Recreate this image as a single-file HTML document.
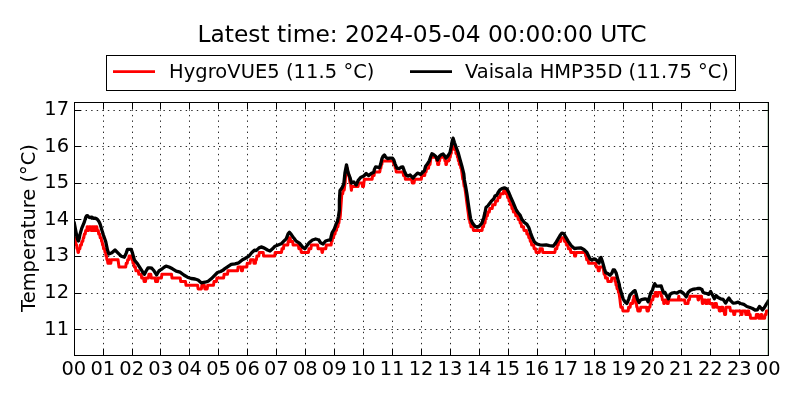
<!DOCTYPE html>
<html><head><meta charset="utf-8"><title>Temperature</title>
<style>
html,body{margin:0;padding:0;background:#fff;}
body{width:800px;height:400px;overflow:hidden;}
svg{display:block;}
text{font-family:'DejaVu Sans','Liberation Sans',sans-serif;fill:#000;}
.t14{font-size:19.44px;}
.t16{font-size:23.33px;}
.grid{stroke:#000;stroke-width:0.85;stroke-dasharray:1.39 4.17;fill:none;}
.ax{stroke:#000;stroke-width:1;fill:none;shape-rendering:crispEdges;}
.tick{stroke:#000;stroke-width:1;fill:none;shape-rendering:crispEdges;}
.ln{fill:none;stroke-width:3.0;stroke-linejoin:round;stroke-linecap:butt;}
</style></head><body>
<svg width="800" height="400" viewBox="0 0 800 400">
<rect x="0" y="0" width="800" height="400" fill="#fff"/>

<path class="tick" d="M74.5 355.5v-6.5M74.5 102.5v6.5"/>
<path class="grid" d="M103.5 355.4V102.5"/>
<path class="tick" d="M103.5 355.5v-6.5M103.5 102.5v6.5"/>
<path class="grid" d="M132.5 355.4V102.5"/>
<path class="tick" d="M132.5 355.5v-6.5M132.5 102.5v6.5"/>
<path class="grid" d="M160.5 355.4V102.5"/>
<path class="tick" d="M160.5 355.5v-6.5M160.5 102.5v6.5"/>
<path class="grid" d="M189.5 355.4V102.5"/>
<path class="tick" d="M189.5 355.5v-6.5M189.5 102.5v6.5"/>
<path class="grid" d="M218.5 355.4V102.5"/>
<path class="tick" d="M218.5 355.5v-6.5M218.5 102.5v6.5"/>
<path class="grid" d="M247.5 355.4V102.5"/>
<path class="tick" d="M247.5 355.5v-6.5M247.5 102.5v6.5"/>
<path class="grid" d="M276.5 355.4V102.5"/>
<path class="tick" d="M276.5 355.5v-6.5M276.5 102.5v6.5"/>
<path class="grid" d="M305.5 355.4V102.5"/>
<path class="tick" d="M305.5 355.5v-6.5M305.5 102.5v6.5"/>
<path class="grid" d="M334.5 355.4V102.5"/>
<path class="tick" d="M334.5 355.5v-6.5M334.5 102.5v6.5"/>
<path class="grid" d="M363.5 355.4V102.5"/>
<path class="tick" d="M363.5 355.5v-6.5M363.5 102.5v6.5"/>
<path class="grid" d="M392.5 355.4V102.5"/>
<path class="tick" d="M392.5 355.5v-6.5M392.5 102.5v6.5"/>
<path class="grid" d="M421.5 355.4V102.5"/>
<path class="tick" d="M421.5 355.5v-6.5M421.5 102.5v6.5"/>
<path class="grid" d="M450.5 355.4V102.5"/>
<path class="tick" d="M450.5 355.5v-6.5M450.5 102.5v6.5"/>
<path class="grid" d="M479.5 355.4V102.5"/>
<path class="tick" d="M479.5 355.5v-6.5M479.5 102.5v6.5"/>
<path class="grid" d="M508.5 355.4V102.5"/>
<path class="tick" d="M508.5 355.5v-6.5M508.5 102.5v6.5"/>
<path class="grid" d="M537.5 355.4V102.5"/>
<path class="tick" d="M537.5 355.5v-6.5M537.5 102.5v6.5"/>
<path class="grid" d="M565.5 355.4V102.5"/>
<path class="tick" d="M565.5 355.5v-6.5M565.5 102.5v6.5"/>
<path class="grid" d="M594.5 355.4V102.5"/>
<path class="tick" d="M594.5 355.5v-6.5M594.5 102.5v6.5"/>
<path class="grid" d="M623.5 355.4V102.5"/>
<path class="tick" d="M623.5 355.5v-6.5M623.5 102.5v6.5"/>
<path class="grid" d="M652.5 355.4V102.5"/>
<path class="tick" d="M652.5 355.5v-6.5M652.5 102.5v6.5"/>
<path class="grid" d="M681.5 355.4V102.5"/>
<path class="tick" d="M681.5 355.5v-6.5M681.5 102.5v6.5"/>
<path class="grid" d="M710.5 355.4V102.5"/>
<path class="tick" d="M710.5 355.5v-6.5M710.5 102.5v6.5"/>
<path class="grid" d="M739.5 355.4V102.5"/>
<path class="tick" d="M739.5 355.5v-6.5M739.5 102.5v6.5"/>
<path class="tick" d="M768.5 355.5v-6.5M768.5 102.5v6.5"/>
<path class="grid" d="M74.5 329.5H768.5"/>
<path class="tick" d="M74.5 329.5h6.5M768.5 329.5h-6.5"/>
<path class="grid" d="M74.5 293.5H768.5"/>
<path class="tick" d="M74.5 293.5h6.5M768.5 293.5h-6.5"/>
<path class="grid" d="M74.5 256.5H768.5"/>
<path class="tick" d="M74.5 256.5h6.5M768.5 256.5h-6.5"/>
<path class="grid" d="M74.5 219.5H768.5"/>
<path class="tick" d="M74.5 219.5h6.5M768.5 219.5h-6.5"/>
<path class="grid" d="M74.5 183.5H768.5"/>
<path class="tick" d="M74.5 183.5h6.5M768.5 183.5h-6.5"/>
<path class="grid" d="M74.5 146.5H768.5"/>
<path class="tick" d="M74.5 146.5h6.5M768.5 146.5h-6.5"/>
<path class="grid" d="M74.5 110.5H768.5"/>
<path class="tick" d="M74.5 110.5h6.5M768.5 110.5h-6.5"/>
<clipPath id="cp"><rect x="74.5" y="102.5" width="694.0" height="253.0"/></clipPath>
<path class="ln" clip-path="url(#cp)" stroke="#ff0000" stroke-width="3.0" style="stroke-width:3.0" d="M73.5 237.7 L74.6 237.7 L75.1 241.4 L75.6 241.4 L76.1 245.0 L76.6 245.0 L77.0 248.7 L77.5 248.7 L78.0 252.4 L78.5 252.4 L79.0 248.7 L79.9 248.7 L80.4 245.0 L81.4 245.0 L81.9 241.4 L82.8 241.4 L83.3 237.7 L83.8 237.7 L84.3 234.1 L85.2 234.1 L85.7 230.4 L86.7 230.4 L87.2 226.8 L87.7 226.8 L88.1 230.4 L88.6 230.4 L89.1 226.8 L90.5 226.8 L91.0 230.4 L91.5 230.4 L92.0 226.8 L92.5 226.8 L93.0 230.4 L93.4 230.4 L93.9 226.8 L94.4 226.8 L94.9 230.4 L95.4 230.4 L95.8 226.8 L96.8 226.8 L97.3 230.4 L98.3 230.4 L98.7 234.1 L99.7 234.1 L100.2 237.7 L101.2 237.7 L101.6 241.4 L102.1 241.4 L102.6 245.0 L103.1 245.0 L103.6 248.7 L104.5 248.7 L105.0 252.4 L105.5 252.4 L106.0 256.0 L106.5 256.0 L106.9 259.7 L107.4 259.7 L107.9 263.3 L108.9 263.3 L109.4 259.7 L109.8 259.7 L110.3 263.3 L110.8 263.3 L111.3 259.7 L118.0 259.7 L118.5 263.3 L119.0 267.0 L125.7 267.0 L126.2 263.3 L127.2 263.3 L127.7 259.7 L128.6 259.7 L129.1 256.0 L131.5 256.0 L132.0 259.7 L132.5 259.7 L133.0 263.3 L133.9 263.3 L134.4 267.0 L135.4 267.0 L135.9 270.7 L138.3 270.7 L138.8 274.3 L141.2 274.3 L141.7 278.0 L143.6 278.0 L144.1 281.6 L145.5 281.6 L146.0 278.0 L148.4 278.0 L148.9 274.3 L150.8 274.3 L151.3 278.0 L155.2 278.0 L155.6 281.6 L157.6 281.6 L158.0 278.0 L161.4 278.0 L161.9 274.3 L171.5 274.3 L172.0 278.0 L180.2 278.0 L180.7 281.6 L185.5 281.6 L186.0 285.3 L197.6 285.3 L198.1 288.9 L201.4 288.9 L201.9 285.3 L204.3 285.3 L204.8 288.9 L207.2 288.9 L207.7 285.3 L213.5 285.3 L214.0 281.6 L216.4 281.6 L216.9 278.0 L223.6 278.0 L224.1 274.3 L227.5 274.3 L228.0 270.7 L237.6 270.7 L238.1 267.0 L241.0 267.0 L241.5 270.7 L242.4 270.7 L242.9 267.0 L246.8 267.0 L247.2 263.3 L250.1 263.3 L250.6 259.7 L253.5 259.7 L254.0 263.3 L255.4 263.3 L255.9 259.7 L256.4 259.7 L256.9 256.0 L258.8 256.0 L259.3 252.4 L263.2 252.4 L263.6 256.0 L274.7 256.0 L275.2 252.4 L281.5 252.4 L282.0 248.7 L283.4 248.7 L283.9 245.0 L287.8 245.0 L288.2 241.4 L288.7 241.4 L289.2 237.7 L290.2 237.7 L290.6 241.4 L292.6 241.4 L293.1 245.0 L298.4 245.0 L298.8 248.7 L300.8 248.7 L301.3 252.4 L308.5 252.4 L309.0 248.7 L310.9 248.7 L311.4 245.0 L317.6 245.0 L318.1 248.7 L321.5 248.7 L322.0 252.4 L322.5 252.4 L323.0 248.7 L325.8 248.7 L326.3 245.0 L331.1 245.0 L331.6 241.4 L332.1 241.4 L332.6 237.7 L333.6 237.7 L334.0 234.1 L335.0 234.1 L335.5 230.4 L336.5 230.4 L336.9 226.8 L337.9 226.8 L338.4 223.1 L338.9 223.1 L339.3 219.4 L339.8 219.4 L340.3 215.8 L340.8 208.5 L341.3 201.1 L341.8 193.8 L342.7 193.8 L343.2 190.2 L344.2 190.2 L344.6 186.5 L345.1 182.9 L345.6 175.5 L346.1 171.9 L346.6 168.2 L347.1 168.2 L347.5 171.9 L348.0 171.9 L348.5 175.5 L349.0 175.5 L349.5 179.2 L350.0 182.9 L350.4 182.9 L350.9 186.5 L351.4 190.2 L351.9 186.5 L358.1 186.5 L358.6 182.9 L362.0 182.9 L362.5 186.5 L363.5 186.5 L363.9 182.9 L364.4 179.2 L372.1 179.2 L372.6 175.5 L374.1 175.5 L374.5 171.9 L379.8 171.9 L380.3 168.2 L380.8 168.2 L381.3 164.6 L381.8 164.6 L382.3 160.9 L393.3 160.9 L393.8 164.6 L394.8 164.6 L395.3 168.2 L395.8 168.2 L396.2 171.9 L403.0 171.9 L403.5 175.5 L404.9 175.5 L405.4 179.2 L411.7 179.2 L412.2 182.9 L414.1 182.9 L414.6 179.2 L421.3 179.2 L421.8 175.5 L424.7 175.5 L425.2 171.9 L426.1 171.9 L426.6 168.2 L428.5 168.2 L429.0 164.6 L430.0 164.6 L430.5 160.9 L431.0 157.3 L436.3 157.3 L436.7 160.9 L437.2 160.9 L437.7 164.6 L438.7 164.6 L439.2 160.9 L439.6 160.9 L440.1 157.3 L444.5 157.3 L444.9 160.9 L445.4 160.9 L445.9 164.6 L446.4 164.6 L446.9 160.9 L448.8 160.9 L449.3 157.3 L450.2 157.3 L450.7 153.6 L451.2 153.6 L451.7 149.9 L452.2 149.9 L452.7 146.3 L454.6 146.3 L455.1 149.9 L455.5 149.9 L456.0 153.6 L457.0 153.6 L457.5 157.3 L458.0 157.3 L458.4 160.9 L458.9 160.9 L459.4 164.6 L460.4 164.6 L460.8 168.2 L461.3 168.2 L461.8 171.9 L462.3 175.5 L462.8 179.2 L463.3 179.2 L463.7 182.9 L464.2 186.5 L464.7 186.5 L465.2 190.2 L465.7 193.8 L466.2 197.5 L466.6 201.1 L467.1 204.8 L467.6 208.5 L468.1 212.1 L468.6 215.8 L469.0 219.4 L469.5 219.4 L470.0 223.1 L470.5 223.1 L471.0 226.8 L472.9 226.8 L473.4 230.4 L482.1 230.4 L482.5 226.8 L483.5 226.8 L484.0 223.1 L485.0 223.1 L485.4 219.4 L485.9 219.4 L486.4 215.8 L487.4 215.8 L487.9 212.1 L489.3 212.1 L489.8 208.5 L492.2 208.5 L492.7 204.8 L495.1 204.8 L495.6 201.1 L497.5 201.1 L498.0 197.5 L499.9 197.5 L500.4 193.8 L503.3 193.8 L503.8 190.2 L505.7 190.2 L506.2 193.8 L507.1 193.8 L507.6 197.5 L508.6 197.5 L509.1 201.1 L510.0 201.1 L510.5 204.8 L511.5 204.8 L512.0 208.5 L512.9 208.5 L513.4 212.1 L515.3 212.1 L515.8 215.8 L517.7 215.8 L518.2 219.4 L519.7 219.4 L520.2 223.1 L521.1 223.1 L521.6 226.8 L523.5 226.8 L524.0 230.4 L526.4 230.4 L526.9 234.1 L528.4 234.1 L528.8 237.7 L529.8 237.7 L530.3 241.4 L531.2 241.4 L531.7 245.0 L533.7 245.0 L534.1 248.7 L535.6 248.7 L536.1 252.4 L539.4 252.4 L539.9 248.7 L542.3 248.7 L542.8 252.4 L554.9 252.4 L555.4 248.7 L556.8 248.7 L557.3 245.0 L558.2 245.0 L558.7 241.4 L560.7 241.4 L561.1 237.7 L564.0 237.7 L564.5 241.4 L566.0 241.4 L566.4 245.0 L567.9 245.0 L568.4 248.7 L570.3 248.7 L570.8 252.4 L574.2 252.4 L574.6 256.0 L575.6 256.0 L576.1 252.4 L585.2 252.4 L585.7 256.0 L586.2 256.0 L586.7 259.7 L588.1 259.7 L588.6 263.3 L595.9 263.3 L596.3 267.0 L597.8 267.0 L598.3 270.7 L599.2 270.7 L599.7 267.0 L603.1 267.0 L603.6 270.7 L604.1 274.3 L605.0 274.3 L605.5 278.0 L607.4 278.0 L607.9 281.6 L611.3 281.6 L611.8 278.0 L614.7 278.0 L615.1 281.6 L615.6 281.6 L616.1 285.3 L616.6 285.3 L617.1 288.9 L618.0 288.9 L618.5 292.6 L619.0 292.6 L619.5 296.3 L620.0 299.9 L620.4 303.6 L620.9 307.2 L622.4 307.2 L622.9 310.9 L628.2 310.9 L628.6 307.2 L630.1 307.2 L630.6 303.6 L632.5 303.6 L633.0 299.9 L633.5 299.9 L633.9 296.3 L634.9 296.3 L635.4 299.9 L635.9 303.6 L636.4 303.6 L636.8 307.2 L637.3 307.2 L637.8 310.9 L640.2 310.9 L640.7 307.2 L646.5 307.2 L647.0 310.9 L648.4 310.9 L648.9 307.2 L649.9 307.2 L650.3 303.6 L650.8 303.6 L651.3 299.9 L652.8 299.9 L653.2 296.3 L654.7 296.3 L655.2 292.6 L656.6 292.6 L657.1 296.3 L657.6 296.3 L658.1 292.6 L660.9 292.6 L661.4 296.3 L661.9 296.3 L662.4 299.9 L663.4 299.9 L663.8 303.6 L664.3 303.6 L664.8 299.9 L666.7 299.9 L667.2 303.6 L668.2 303.6 L668.7 299.9 L678.3 299.9 L678.8 296.3 L679.3 299.9 L684.6 299.9 L685.1 303.6 L688.0 303.6 L688.4 299.9 L689.4 299.9 L689.9 296.3 L697.6 296.3 L698.1 299.9 L698.6 299.9 L699.0 296.3 L701.5 296.3 L701.9 299.9 L702.4 303.6 L702.9 303.6 L703.4 299.9 L705.3 299.9 L705.8 303.6 L707.2 303.6 L707.7 299.9 L709.2 299.9 L709.6 303.6 L712.5 303.6 L713.0 307.2 L714.5 307.2 L715.0 303.6 L716.4 303.6 L716.9 307.2 L718.8 307.2 L719.3 310.9 L720.7 310.9 L721.2 307.2 L722.7 307.2 L723.1 310.9 L724.1 310.9 L724.6 314.5 L725.6 314.5 L726.0 307.2 L729.9 307.2 L730.4 310.9 L733.3 310.9 L733.8 314.5 L734.7 314.5 L735.2 310.9 L740.5 310.9 L741.0 314.5 L742.0 314.5 L742.4 310.9 L745.3 310.9 L745.8 314.5 L747.3 314.5 L747.7 310.9 L748.7 310.9 L749.2 314.5 L750.1 314.5 L750.6 318.2 L755.9 318.2 L756.4 314.5 L758.3 314.5 L758.8 318.2 L760.8 318.2 L761.2 314.5 L761.7 314.5 L762.2 318.2 L764.6 318.2 L765.1 314.5 L766.1 314.5 L766.5 310.9 L768.0 310.9 L769.0 310.9"/>

<path class="ln" clip-path="url(#cp)" stroke="#000000" stroke-width="3.3" style="stroke-width:3.3" d="M74.0 221.5 L75.5 229.6 L76.8 236.1 L77.8 240.1 L78.4 240.9 L79.0 239.1 L79.9 234.6 L81.8 228.1 L84.3 222.1 L85.8 217.1 L86.6 215.8 L87.3 215.6 L88.1 216.3 L88.8 217.1 L90.3 217.6 L91.8 217.1 L93.3 218.3 L94.8 218.1 L96.3 218.6 L97.8 219.8 L99.3 222.1 L100.3 224.6 L101.3 228.1 L102.3 231.6 L103.3 234.8 L105.6 241.2 L107.5 250.0 L108.8 254.0 L111.9 252.8 L115.0 250.0 L118.1 253.1 L121.2 256.2 L124.4 257.2 L126.2 253.1 L127.5 249.4 L131.2 249.4 L132.5 253.1 L134.4 260.0 L137.5 263.8 L141.2 269.7 L143.2 272.8 L144.3 274.3 L145.3 272.6 L146.1 271.0 L148.0 267.9 L149.8 267.8 L151.8 268.2 L154.0 270.8 L155.8 273.6 L156.6 274.9 L157.6 273.2 L159.2 270.7 L162.2 268.8 L164.5 267.0 L166.0 266.1 L169.0 267.0 L172.5 268.8 L176.2 271.2 L180.0 272.2 L183.8 275.0 L187.5 277.2 L191.2 278.5 L195.0 279.0 L198.1 280.0 L201.2 282.8 L205.0 282.2 L208.1 281.2 L211.2 278.8 L214.4 275.6 L217.5 272.5 L220.6 271.5 L223.8 269.8 L223.8 269.4 L227.5 266.9 L231.2 264.4 L235.0 263.8 L238.8 262.8 L242.5 259.8 L245.0 258.5 L248.8 256.2 L251.9 252.5 L254.4 250.2 L256.2 250.6 L258.8 248.1 L261.2 246.9 L264.4 248.1 L267.5 250.0 L270.0 251.0 L272.5 248.8 L275.0 246.2 L278.1 245.0 L281.2 243.8 L283.8 241.2 L286.2 238.8 L288.1 233.8 L289.4 232.2 L291.2 234.4 L293.8 238.1 L296.2 241.2 L299.4 243.1 L302.5 246.9 L304.8 248.8 L306.9 245.6 L309.4 242.5 L312.5 240.0 L315.6 239.0 L317.5 239.5 L318.8 239.8 L320.6 242.8 L323.1 244.0 L325.6 241.0 L328.1 240.2 L330.4 240.0 L331.2 236.2 L332.2 232.5 L334.4 228.8 L336.2 223.8 L337.5 221.2 L338.5 216.2 L339.4 210.0 L339.4 200.0 L340.0 190.6 L341.9 188.1 L343.8 183.8 L345.0 172.5 L346.5 164.8 L348.1 172.5 L350.0 177.5 L351.5 183.1 L353.8 181.9 L356.2 185.0 L358.1 180.6 L360.6 177.5 L363.8 176.0 L366.2 173.5 L368.8 175.6 L371.2 173.5 L373.8 172.2 L374.4 169.4 L375.6 166.9 L377.5 167.2 L379.4 167.8 L380.6 164.4 L381.9 158.8 L383.1 156.2 L384.4 155.0 L385.6 156.9 L387.5 158.5 L390.0 158.1 L392.5 158.1 L393.8 160.0 L395.0 163.8 L396.9 168.1 L399.4 168.5 L401.2 167.2 L402.8 166.9 L404.4 171.2 L406.2 175.0 L408.1 176.0 L410.2 175.0 L411.9 176.9 L413.1 178.1 L415.0 175.6 L417.5 173.1 L419.4 173.8 L420.6 174.4 L422.5 172.5 L424.4 170.6 L425.6 166.2 L427.5 163.8 L429.4 160.6 L430.6 156.9 L431.9 153.8 L433.8 154.8 L435.6 156.2 L437.5 160.0 L439.4 156.2 L441.2 154.8 L443.1 154.0 L444.4 155.6 L446.0 158.1 L448.1 155.6 L450.0 152.5 L451.2 146.9 L452.2 141.2 L453.1 138.1 L454.4 142.5 L456.2 147.5 L458.1 152.5 L460.0 159.4 L461.9 166.2 L463.8 173.8 L464.4 180.0 L465.6 186.2 L466.9 193.8 L468.1 202.5 L469.4 211.2 L470.6 218.8 L472.5 223.1 L475.0 226.2 L477.2 227.2 L479.4 226.0 L481.9 223.1 L483.8 217.5 L485.0 212.5 L486.0 207.5 L488.1 205.6 L490.0 203.1 L491.9 200.6 L493.8 198.8 L495.0 196.0 L496.9 195.0 L498.1 192.5 L500.0 189.8 L501.9 188.5 L504.4 187.8 L506.9 189.0 L508.8 192.5 L510.6 196.9 L512.5 201.2 L514.4 205.6 L516.2 210.0 L518.1 212.8 L520.0 215.0 L521.9 219.4 L524.4 222.5 L526.9 224.4 L528.8 227.5 L530.6 233.1 L532.5 238.1 L534.4 241.9 L536.9 244.0 L540.0 244.8 L543.1 245.2 L546.2 244.8 L549.4 245.6 L553.1 246.2 L555.6 243.1 L558.1 238.8 L560.0 235.6 L561.9 233.1 L563.8 233.5 L565.6 236.9 L568.1 241.2 L571.2 245.6 L574.4 248.5 L577.5 248.1 L580.6 247.8 L583.8 249.4 L586.9 252.5 L588.1 255.0 L590.0 258.8 L591.9 260.0 L593.8 258.8 L595.6 259.4 L597.5 261.2 L599.0 263.1 L600.0 258.1 L601.0 257.5 L602.5 261.9 L604.4 268.8 L605.6 272.5 L608.1 273.8 L610.0 275.2 L611.9 273.1 L613.1 270.0 L614.4 269.8 L616.2 273.1 L617.5 278.1 L619.4 285.0 L619.4 286.2 L621.2 292.5 L623.1 298.8 L625.0 301.9 L626.9 303.5 L628.8 298.8 L630.0 295.0 L631.9 293.1 L633.8 291.2 L635.0 290.6 L636.2 294.4 L637.5 299.4 L639.0 302.5 L640.6 300.0 L642.5 299.4 L645.0 298.8 L646.9 299.4 L648.1 301.9 L649.4 297.5 L650.6 293.1 L652.5 290.0 L653.8 285.6 L654.8 283.8 L656.2 286.2 L658.8 286.2 L661.2 286.0 L662.5 290.0 L663.8 293.1 L665.0 292.5 L666.9 296.2 L668.5 298.8 L670.0 294.4 L671.9 293.1 L674.4 292.5 L676.9 293.1 L678.8 291.9 L680.6 291.2 L682.5 292.5 L684.4 294.4 L686.2 296.9 L688.1 292.5 L690.0 290.6 L692.5 289.4 L695.0 289.0 L697.5 288.5 L700.0 288.5 L701.9 289.4 L703.1 292.5 L705.0 293.1 L706.9 293.5 L708.8 294.4 L710.6 291.5 L712.5 295.0 L714.4 298.8 L716.2 295.6 L718.1 297.5 L720.6 298.8 L723.1 299.4 L725.6 303.1 L727.5 300.0 L729.0 298.1 L730.6 300.6 L733.1 303.1 L735.6 302.8 L738.1 302.2 L740.6 303.5 L743.8 304.4 L746.9 306.5 L750.0 307.5 L752.5 308.5 L755.0 310.0 L757.5 309.8 L759.4 306.5 L761.0 308.1 L762.5 310.0 L764.4 307.5 L766.2 304.4 L767.8 301.9 L768.8 300.2"/>
<path d="M767.5 103V355" stroke="#2e6b2e" stroke-opacity="0.3" stroke-width="1" fill="none" shape-rendering="crispEdges"/>
<rect class="ax" x="74.5" y="102.5" width="694.0" height="253.0"/>
<text class="t14" x="73.87" y="375" text-anchor="middle">00</text>
<text class="t14" x="102.80" y="375" text-anchor="middle">01</text>
<text class="t14" x="131.73" y="375" text-anchor="middle">02</text>
<text class="t14" x="160.66" y="375" text-anchor="middle">03</text>
<text class="t14" x="189.59" y="375" text-anchor="middle">04</text>
<text class="t14" x="218.52" y="375" text-anchor="middle">05</text>
<text class="t14" x="247.45" y="375" text-anchor="middle">06</text>
<text class="t14" x="276.38" y="375" text-anchor="middle">07</text>
<text class="t14" x="305.31" y="375" text-anchor="middle">08</text>
<text class="t14" x="334.24" y="375" text-anchor="middle">09</text>
<text class="t14" x="363.17" y="375" text-anchor="middle">10</text>
<text class="t14" x="392.10" y="375" text-anchor="middle">11</text>
<text class="t14" x="421.03" y="375" text-anchor="middle">12</text>
<text class="t14" x="449.96" y="375" text-anchor="middle">13</text>
<text class="t14" x="478.89" y="375" text-anchor="middle">14</text>
<text class="t14" x="507.82" y="375" text-anchor="middle">15</text>
<text class="t14" x="536.75" y="375" text-anchor="middle">16</text>
<text class="t14" x="565.68" y="375" text-anchor="middle">17</text>
<text class="t14" x="594.61" y="375" text-anchor="middle">18</text>
<text class="t14" x="623.54" y="375" text-anchor="middle">19</text>
<text class="t14" x="652.47" y="375" text-anchor="middle">20</text>
<text class="t14" x="681.40" y="375" text-anchor="middle">21</text>
<text class="t14" x="710.33" y="375" text-anchor="middle">22</text>
<text class="t14" x="739.26" y="375" text-anchor="middle">23</text>
<text class="t14" x="768.19" y="375" text-anchor="middle">00</text>
<text class="t14" x="69" y="335" text-anchor="end">11</text>
<text class="t14" x="69" y="298" text-anchor="end">12</text>
<text class="t14" x="69" y="261" text-anchor="end">13</text>
<text class="t14" x="69" y="225" text-anchor="end">14</text>
<text class="t14" x="69" y="188" text-anchor="end">15</text>
<text class="t14" x="69" y="152" text-anchor="end">16</text>
<text class="t14" x="69" y="115" text-anchor="end">17</text>
<text class="t14" transform="translate(34.5 228) rotate(-90)" text-anchor="middle">Temperature (°C)</text>
<text class="t16" x="422" y="42" text-anchor="middle">Latest time: 2024-05-04 00:00:00 UTC</text>
<rect class="ax" x="106.5" y="55.5" width="629" height="35" fill="#fff" style="fill:#fff"/>
<path d="M113 71.6H155" stroke="#ff0000" stroke-width="2.78" fill="none"/>
<text class="t14" x="169" y="78.3" letter-spacing="0.07">HygroVUE5 (11.5 °C)</text>
<path d="M410 71.6H452" stroke="#000" stroke-width="2.78" fill="none"/>
<text class="t14" x="465" y="78.3">Vaisala HMP35D (11.75 °C)</text>
</svg></body></html>
